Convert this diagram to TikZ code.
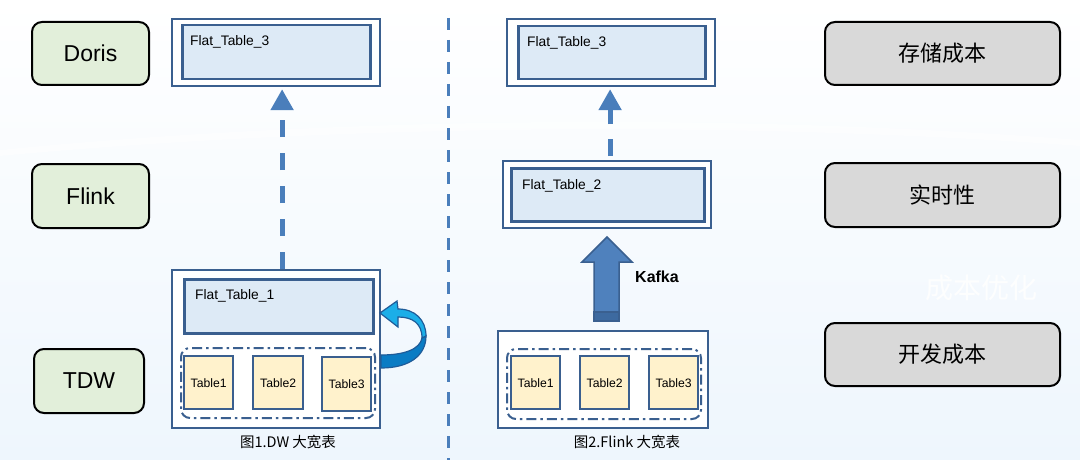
\documentclass[tikz,border=0pt]{standalone}
\usepackage{fontspec}
\setmainfont{Liberation Sans}
\newfontfamily\cjk{Noto Sans CJK SC}
\usetikzlibrary{arrows.meta,calc}
\definecolor{boxline}{HTML}{3A5F8F}
\definecolor{innerfill}{HTML}{DDEAF6}
\definecolor{yel}{HTML}{FFF2CC}
\definecolor{lgreen}{HTML}{E2EFDA}
\definecolor{lgray}{HTML}{D9D9D9}
\definecolor{arrblue}{HTML}{4A7EBB}
\definecolor{bgblue}{HTML}{EEF6FD}
\definecolor{kafkafill}{HTML}{4F81BD}
\definecolor{kafkaline}{HTML}{3A6090}
\definecolor{kafkadark}{HTML}{3D6AA0}
\definecolor{ribbonlight}{HTML}{1BAEE8}
\definecolor{ribbondark}{HTML}{0A7CC4}
\definecolor{ribbonline}{HTML}{1F5C99}
\begin{document}
\begin{tikzpicture}[x=1pt,y=-1pt,
  layerbox/.style={draw=black, line width=2pt, rounded corners=10pt, minimum width=117pt, minimum height=63pt, anchor=north west, fill=lgreen, font=\fontsize{23}{28}\selectfont},
  costbox/.style={layerbox, fill=lgray, minimum width=235pt, font=\cjk\fontsize{22}{26}\selectfont},
  outerbox/.style={draw=boxline, line width=2.2pt, fill=white, anchor=north west, inner sep=0pt},
  innerbox/.style={draw=boxline, line width=2.5pt, fill=innerfill, anchor=north west, inner sep=0pt},
  tbl/.style={draw=boxline, line width=2.3pt, fill=yel, anchor=north west, minimum width=49pt, minimum height=53pt, font=\fontsize{12.2}{14}\selectfont, inner sep=0pt},
  grp/.style={draw=boxline, line width=2pt, rounded corners=9pt, dash pattern=on 10pt off 4pt on 2.5pt off 4pt, anchor=north west, inner sep=0pt},
  ftext/.style={anchor=west, font=\fontsize{13.8}{16}\selectfont, inner sep=0pt},
  captext/.style={font=\cjk\fontsize{14.5}{17}\selectfont, inner sep=0pt},
  dasharrow/.style={draw=arrblue, line width=5pt, -{Triangle[length=21pt,width=22pt]}},
]
\useasboundingbox (0,0) rectangle (1080,460);
\shade[top color=white, bottom color=bgblue] (0,0) rectangle (1080,460);
\fill[white, opacity=0.5] (0,150) .. controls (300,120) and (700,110) .. (1080,140) -- (1080,146) .. controls (700,118) and (300,128) .. (0,156) -- cycle;

% left layer labels
\node[layerbox] (doris) at (31,21) {Doris};
\node[layerbox, minimum height=64pt] (flink) at (31,163) {Flink};
\node[layerbox, minimum width=110pt, minimum height=64pt] (tdw) at (33,348) {TDW};

% right cost labels
\node[costbox] (storage) at (824,21) {存储成本};
\node[costbox, minimum height=64pt] (realtime) at (824,162) {实时性};
\node[costbox] (devcost) at (824,322) {开发成本};

% watermark
\node[text=white, opacity=0.85, font=\cjk\fontsize{28}{32}\selectfont] (wm) at (981,288) {成本优化};

% center divider
\draw[arrblue, line width=3pt, dash pattern=on 12pt off 10pt] (448,18) coordinate (divtop) -- (448,460) coordinate (divbot);

% ===== left: DW =====
\node[outerbox, minimum width=208pt, minimum height=67pt] (ft3Lo) at (171,18) {};
\node[innerbox, minimum width=188pt, minimum height=54pt] (ft3L) at (181,24) {};
\node[ftext] (ft3Lt) at (190,42) {Flat\_Table\_3};

\node[outerbox, minimum width=208pt, minimum height=158pt] (ft1o) at (171,269) {};
\node[innerbox, minimum width=189pt, minimum height=54pt] (ft1) at (183,278) {};
\node[ftext] (ft1t) at (195,296) {Flat\_Table\_1};
\node[grp, minimum width=194pt, minimum height=70pt] (grpL) at (180,347) {};
\node[tbl] (t1L) at (183,355) {Table1};
\node[tbl, minimum width=50pt] (t2L) at (252,355) {Table2};
\node[tbl, minimum height=54pt] (t3L) at (321,356) {\raisebox{-2pt}{Table3}};
\node[captext] (capL) at (288,442) {图1.DW 大宽表};

\draw[dasharrow, dash pattern=on 17pt off 16pt] ([xshift=6pt]ft1o.north) -- ([xshift=6pt,yshift=-2pt]ft3Lo.south);

% curved ribbon arrow (Table3 -> Flat_Table_1)
\fill[ribbondark, draw=ribbonline, line width=1.2pt]
  (381,355) .. controls (405,355) and (420,349) .. (422,338)
  -- (426,336) .. controls (426,355) and (410,368) .. (381,368) -- cycle;
\fill[ribbonlight, draw=ribbonline, line width=1.2pt]
  (422,338) .. controls (422,323) and (412,317) .. (398,317)
  -- (398,327) -- (380,313) -- (397,301) -- (398,309)
  .. controls (415,309) and (426,320) .. (426,336) -- cycle;

% ===== right: Flink =====
\node[outerbox, minimum width=208pt, minimum height=67pt] (ft3Ro) at (506,18) {};
\node[innerbox, minimum width=187pt, minimum height=53pt] (ft3R) at (517,25) {};
\node[ftext] (ft3Rt) at (527,43) {Flat\_Table\_3};

\node[outerbox, minimum width=208pt, minimum height=67pt] (ft2o) at (502,160) {};
\node[innerbox, minimum width=193pt, minimum height=53pt] (ft2) at (510,167) {};
\node[ftext] (ft2t) at (522,186) {Flat\_Table\_2};

\draw[dasharrow, dash pattern=on 17pt off 15pt, dash phase=28pt] ([xshift=3pt]ft2o.north) -- ([xshift=-1pt,yshift=-2pt]ft3Ro.south);

\node[outerbox, minimum width=210pt, minimum height=97pt] (grpRo) at (497,330) {};
\node[grp, minimum width=194pt, minimum height=70pt] (grpR) at (506,348) {};
\node[tbl] (t1R) at (510,355) {\raisebox{-1pt}{Table1}};
\node[tbl] (t2R) at (579,355) {Table2};
\node[tbl] (t3R) at (648,355) {Table3};
\node[captext] (capR) at (627,442) {图2.Flink 大宽表};

% Kafka block arrow
\filldraw[fill=kafkafill, draw=kafkaline, line width=1.5pt, line join=miter]
  (594,321) -- (594,262) -- (582,262) -- (607,237) -- (632,262) -- (619,262) -- (619,321) -- cycle;
\filldraw[fill=kafkadark, draw=kafkaline, line width=1.2pt] (594,312) rectangle (619,321);
\node[font=\bfseries\fontsize{16}{19}\selectfont, inner sep=0pt] (kafka) at (657,277) {Kafka};
\end{tikzpicture}
\end{document}
